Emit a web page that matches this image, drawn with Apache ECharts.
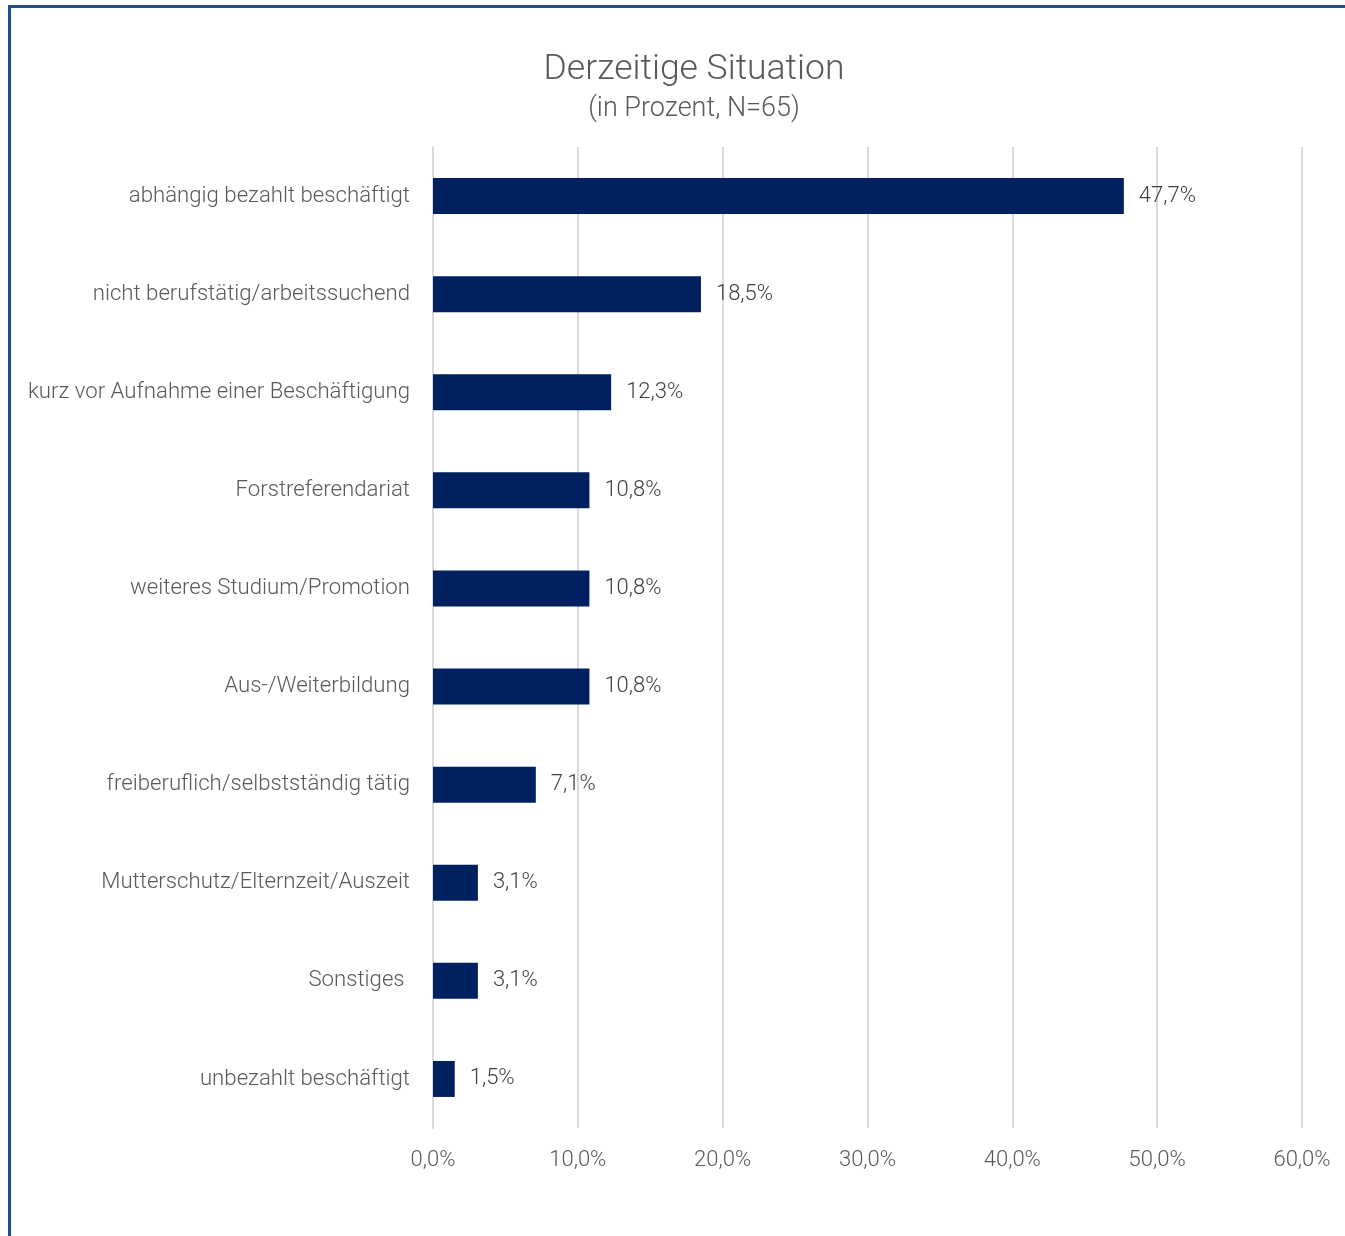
<!DOCTYPE html>
<html><head><meta charset="utf-8">
<script src="https://cdn.jsdelivr.net/npm/echarts@6/dist/echarts.min.js"></script>
<style>
html,body{margin:0;padding:0;background:#fff;}
#frame{position:absolute;left:8px;top:5px;width:1400px;height:1300px;border-left:3px solid #1F4E8C;border-top:3px solid #1F4E8C;}
#chart{position:absolute;left:0;top:0;width:1345px;height:1236px;}
</style></head>
<body>
<div id="frame"></div>
<div id="chart"></div>
<script>
const categories = [
  "abhängig bezahlt beschäftigt",
  "nicht berufstätig/arbeitssuchend",
  "kurz vor Aufnahme einer Beschäftigung",
  "Forstreferendariat",
  "weiteres Studium/Promotion",
  "Aus-/Weiterbildung",
  "freiberuflich/selbstständig tätig",
  "Mutterschutz/Elternzeit/Auszeit",
  "Sonstiges ",
  "unbezahlt beschäftigt"
];
const values = [47.7, 18.5, 12.3, 10.8, 10.8, 10.8, 7.1, 3.1, 3.1, 1.5];
const titleText = "Derzeitige Situation";
const subtitleText = "(in Prozent, N=65)";

const FONT = "Roboto";
const fmt1 = v => v.toFixed(1).replace('.', ',') + '%';

const chart = echarts.init(document.getElementById('chart'));
chart.setOption({
  animation: false,
  title: {
    text: titleText,
    subtext: subtitleText,
    left: 689, top: 47, textAlign: 'center',
    itemGap: 8,
    textStyle: {fontFamily: FONT, fontWeight: 300, fontSize: 35.5, color: '#595959'},
    subtextStyle: {fontFamily: FONT, fontWeight: 300, fontSize: 27, color: '#595959'}
  },
  grid: {left: 433, right: 43, top: 147, bottom: 108, containLabel: false},
  xAxis: {
    type: 'value', min: 0, max: 60, interval: 10,
    axisLine: {show: false}, axisTick: {show: false},
    splitLine: {lineStyle: {color: '#d9d9d9', width: 2}},
    axisLabel: {fontFamily: FONT, fontWeight: 300, fontSize: 22, color: '#595959', margin: 21, formatter: v => fmt1(v)}
  },
  yAxis: {
    type: 'category', data: categories, inverse: true,
    axisLine: {show: true, lineStyle: {color: '#d9d9d9', width: 2}},
    axisTick: {show: false},
    axisLabel: {fontFamily: FONT, fontWeight: 300, fontSize: 22.2, color: '#595959', margin: 23, padding: [4, 0, 0, 0]}
  },
  series: [{
    type: 'bar', data: values, barWidth: 36,
    itemStyle: {color: '#002060'},
    label: {show: true, position: 'right', distance: 15, fontFamily: FONT, fontWeight: 300, fontSize: 22, color: '#404040', padding: [4, 0, 0, 0], formatter: p => fmt1(p.value)}
  }]
});
</script>
</body></html>
